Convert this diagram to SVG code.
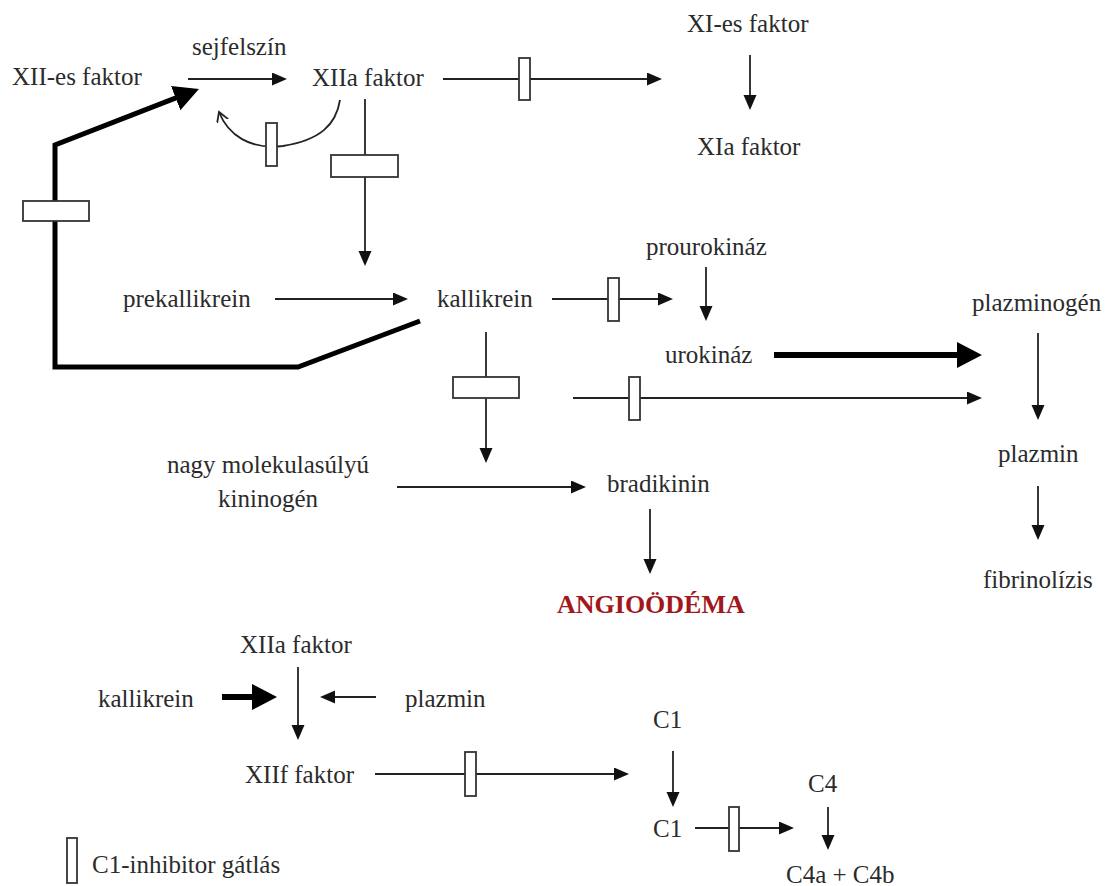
<svg xmlns="http://www.w3.org/2000/svg" width="1108" height="886" viewBox="0 0 1108 886">
<style>
text{font-family:'Liberation Serif','Times New Roman',Tinos,'DejaVu Serif',serif;font-size:25px;fill:#2b2b2b}
.red{fill:#a0171c;font-weight:bold;font-size:26px}
.ln{stroke:#222;stroke-width:1.8;fill:none}
.thick{stroke:#000;stroke-width:6;fill:none}
.inh{fill:#fff;stroke:#333;stroke-width:1.8}
</style>
<defs>
<marker id="a" markerUnits="userSpaceOnUse" markerWidth="16" markerHeight="14" refX="1" refY="6.5" orient="auto"><path d="M0,0 L15,6.5 L0,13 Z" fill="#111"/></marker>
<marker id="b" markerUnits="userSpaceOnUse" markerWidth="26" markerHeight="27" refX="1" refY="13" orient="auto"><path d="M0,0 L25,13 L0,26 Z" fill="#000"/></marker>
<marker id="o" markerUnits="userSpaceOnUse" markerWidth="12" markerHeight="14" refX="10" refY="6" orient="auto"><path d="M0,0 L10,6 L0,12" fill="none" stroke="#222" stroke-width="1.8"/></marker>
</defs>
<rect width="1108" height="886" fill="#fff"/>
<g id="connectors">
<line class="ln" x1="188" y1="79" x2="273" y2="79" marker-end="url(#a)"/>
<line class="ln" x1="443" y1="79" x2="648" y2="79" marker-end="url(#a)"/>
<rect class="inh" x="519" y="58" width="11" height="42"/>
<line class="ln" x1="750" y1="55" x2="750" y2="96" marker-end="url(#a)"/>
<path class="ln" d="M340,100 C336,125 320,140 283,146 C250,150 228,135 219,112" marker-end="url(#o)"/>
<rect class="inh" x="266" y="123" width="11" height="43"/>
<line class="ln" x1="365" y1="99" x2="365" y2="252" marker-end="url(#a)"/>
<rect class="inh" x="331" y="155" width="67" height="22"/>
<path d="M420,321 L298,367 L55,367 L55,145 L176.6,97.7" fill="none" stroke="#000" stroke-width="5" marker-end="url(#b)"/>
<rect class="inh" x="23" y="201" width="66" height="20"/>
<line class="ln" x1="275" y1="299" x2="394" y2="299" marker-end="url(#a)"/>
<line class="ln" x1="552" y1="299" x2="659" y2="299" marker-end="url(#a)"/>
<rect class="inh" x="608" y="278" width="11" height="43"/>
<line class="ln" x1="706" y1="267" x2="706" y2="307" marker-end="url(#a)"/>
<line class="thick" x1="774" y1="355" x2="958" y2="355" marker-end="url(#b)"/>
<line class="ln" x1="573" y1="398" x2="968" y2="398" marker-end="url(#a)"/>
<rect class="inh" x="629" y="377" width="11" height="43"/>
<line class="ln" x1="486" y1="332" x2="486" y2="449" marker-end="url(#a)"/>
<rect class="inh" x="453" y="377" width="66" height="21"/>
<line class="ln" x1="397" y1="487" x2="572" y2="487" marker-end="url(#a)"/>
<line class="ln" x1="650" y1="509" x2="650" y2="560" marker-end="url(#a)"/>
<line class="ln" x1="1038" y1="333" x2="1038" y2="406" marker-end="url(#a)"/>
<line class="ln" x1="1038" y1="486" x2="1038" y2="526" marker-end="url(#a)"/>
<line class="ln" x1="298" y1="667" x2="298" y2="726" marker-end="url(#a)"/>
<line class="thick" x1="222" y1="697" x2="253" y2="697" marker-end="url(#b)"/>
<line class="ln" x1="376" y1="697" x2="334" y2="697" marker-end="url(#a)"/>
<line class="ln" x1="375" y1="774" x2="615" y2="774" marker-end="url(#a)"/>
<rect class="inh" x="465" y="752" width="11" height="44"/>
<line class="ln" x1="673" y1="751" x2="673" y2="793" marker-end="url(#a)"/>
<line class="ln" x1="695" y1="828" x2="780" y2="828" marker-end="url(#a)"/>
<rect class="inh" x="729" y="807" width="10" height="44"/>
<line class="ln" x1="828" y1="807" x2="828" y2="836" marker-end="url(#a)"/>
</g>
<g id="n-xii"><text x="12" y="85">XII-es faktor</text></g>
<g id="n-sejfelszin"><text x="192" y="55">sejfelszín</text></g>
<g id="n-xiia"><text x="312" y="86">XIIa faktor</text></g>
<g id="n-xi"><text x="687" y="32">XI-es faktor</text></g>
<g id="n-xia"><text x="697" y="155">XIa faktor</text></g>
<g id="n-prekallikrein"><text x="123" y="307">prekallikrein</text></g>
<g id="n-kallikrein"><text x="437" y="307">kallikrein</text></g>
<g id="n-prourokinaz"><text x="646" y="255">prourokináz</text></g>
<g id="n-urokinaz"><text x="665" y="363">urokináz</text></g>
<g id="n-plazminogen"><text x="972" y="311">plazminogén</text></g>
<g id="n-plazmin"><text x="998" y="462">plazmin</text></g>
<g id="n-fibrinolizis"><text x="983" y="588">fibrinolízis</text></g>
<g id="n-kininogen"><text x="268" y="473" text-anchor="middle">nagy molekulasúlyú</text><text x="268" y="507" text-anchor="middle">kininogén</text></g>
<g id="n-bradikinin"><text x="607" y="492">bradikinin</text></g>
<g id="n-angioodema"><text class="red" x="557" y="613">ANGIOÖDÉMA</text></g>
<g id="n-xiia2"><text x="240" y="653">XIIa faktor</text></g>
<g id="n-kallikrein2"><text x="98" y="707">kallikrein</text></g>
<g id="n-plazmin2"><text x="405" y="707">plazmin</text></g>
<g id="n-xiif"><text x="245" y="783">XIIf faktor</text></g>
<g id="n-c1a"><text x="653" y="728">C1</text></g>
<g id="n-c1b"><text x="653" y="837">C1</text></g>
<g id="n-c4"><text x="808" y="792">C4</text></g>
<g id="n-c4ab"><text x="786" y="883">C4a + C4b</text></g>
<g id="legend"><rect class="inh" x="67" y="838" width="10" height="45"/><text x="92" y="873">C1-inhibitor gátlás</text></g>
</svg>
